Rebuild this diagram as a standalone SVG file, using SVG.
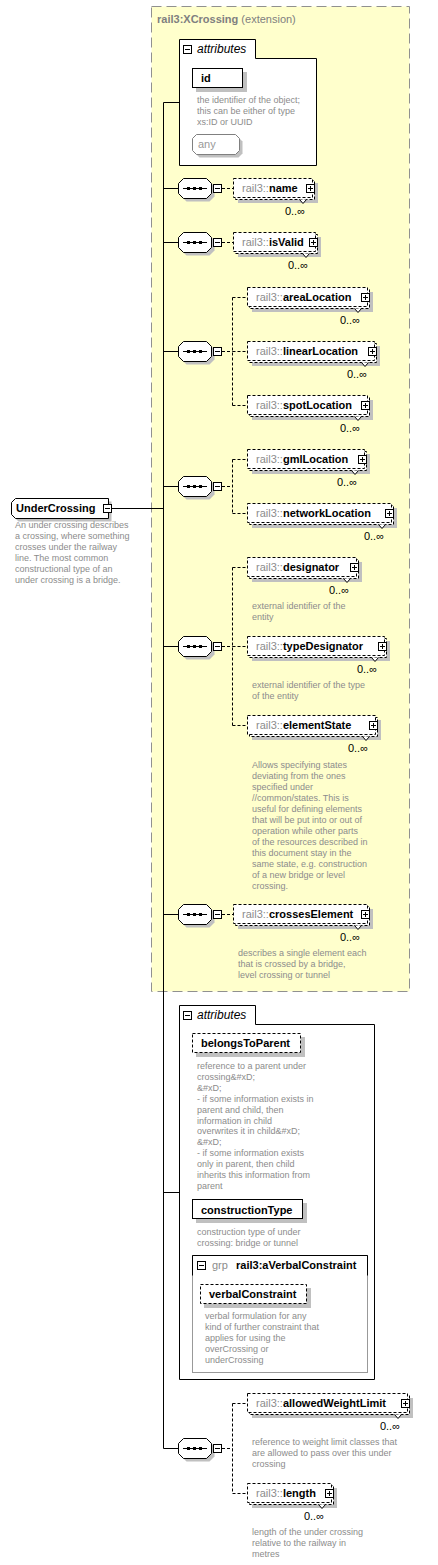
<svg xmlns="http://www.w3.org/2000/svg" xmlns:xlink="http://www.w3.org/1999/xlink" width="438" height="1565" viewBox="0 0 438 1565">
<style>
text{font-family:"Liberation Sans",Arial,sans-serif}
.desc{font-size:9px;fill:#8c8c8c}
.nm{font-size:11px;font-weight:bold;fill:#000}
.pf{font-weight:normal;fill:#8c8c8c}
.card{font-size:11px;fill:#000}
.ttl{font-size:11px;font-weight:bold;fill:#808080}
.att{font-size:12px;font-style:italic;fill:#000}
.sh{fill:#c0c0c0;stroke:none}
.box{fill:#fff;stroke:#000;stroke-width:1}
.dbox{fill:#fff;stroke:#000;stroke-width:1;stroke-dasharray:3 2}
.vn{fill:#fff;stroke:#000;stroke-width:1}
.ln{stroke:#000;stroke-width:1;fill:none}
.dl{stroke:#000;stroke-width:1;fill:none;stroke-dasharray:3 2}
</style>
<defs>
<g id="minus"><rect x=".5" y=".5" width="8" height="8" fill="#fff" stroke="#000"/><path d="M2 4.5H7" stroke="#000"/></g>
<g id="plus"><rect x=".5" y=".5" width="8" height="8" fill="#fff" stroke="#000"/><path d="M2 4.5H7M4.5 2V7" stroke="#000"/></g>
<g id="seq">
<polygon class="sh" points="3.5,-1.5 8.5,-6.5 31.5,-6.5 36.5,-1.5 36.5,8.5 31.5,13.5 8.5,13.5 3.5,8.5"/>
<polygon class="box" points="0.5,-4.5 5.5,-9.5 28.5,-9.5 33.5,-4.5 33.5,5.5 28.5,10.5 5.5,10.5 0.5,5.5"/>
<path d="M5 0.5H29" stroke="#000"/>
<rect x="9" y="-1" width="3" height="3" fill="#000"/>
<rect x="15" y="-1" width="3" height="3" fill="#000"/>
<rect x="21" y="-1" width="3" height="3" fill="#000"/>
<use xlink:href="#minus" x="35" y="-4"/>
</g>
</defs>

<g id="xcrossing">
<rect x="151.5" y="6.5" width="258" height="985" fill="#ffffcc" stroke="#909090" stroke-dasharray="10 5"/>
<text x="157" y="23" class="ttl">rail3:XCrossing<tspan font-weight="normal"> (extension)</tspan></text>
</g>

<g id="connectors">
<path class="ln" d="M163.5 102.5V1448.5M163.5 102.5H179M112 508.5H163.5M163.5 188.5H178M163.5 242.5H178M163.5 351.5H178M163.5 486.5H178M163.5 646.5H178M163.5 914.5H178M163.5 1192.5H179M163.5 1448.5H178"/>
<path class="dl" d="M222 188.5H233M222 242.5H233M222 914.5H233M222 351.5H232.5M232.5 297.5V405.5M232.5 297.5H247M232.5 351.5H247M232.5 405.5H247M222 486.5H232.5M232.5 459.5V513.5M232.5 459.5H247M232.5 513.5H247M222 646.5H232.5M232.5 567.5V725.5M232.5 567.5H247M232.5 646.5H247M232.5 725.5H247M222 1448.5H232.5M232.5 1403.5V1493.5M232.5 1403.5H247M232.5 1493.5H247"/>
</g>

<g id="undercrossing">
<polygon class="sh" points="14.5,505.5 18.5,501.5 111.5,501.5 111.5,521.5 18.5,521.5 14.5,517.5"/>
<polygon class="box" points="11.5,502.5 15.5,498.5 108.5,498.5 108.5,518.5 15.5,518.5 11.5,514.5"/>
<use xlink:href="#minus" x="103" y="504"/>
<text x="16" y="512" class="nm">UnderCrossing</text>
<text class="desc" x="15" y="528">An under crossing describes<tspan x="15" dy="11">a crossing, where something</tspan><tspan x="15" dy="11">crosses under the railway</tspan><tspan x="15" dy="11">line. The most common</tspan><tspan x="15" dy="11">constructional type of an</tspan><tspan x="15" dy="11">under crossing is a bridge.</tspan></text>
</g>

<g id="attributes1">
<path class="box" d="M179.5 165.5V39.5H255.5V58.5H316.5V165.5Z"/>
<use xlink:href="#minus" x="183" y="45"/>
<text x="197" y="53" class="att">attributes</text>
<rect class="sh" x="196" y="72" width="51" height="20"/>
<rect class="box" x="192.5" y="68.5" width="50" height="19"/>
<text x="201" y="82" class="nm">id</text>
<text class="desc" x="197" y="103">the identifier of the object;<tspan x="197" dy="11">this can be either of type</tspan><tspan x="197" dy="11">xs:ID or UUID</tspan></text>
<polygon class="sh" points="199.5,137.5 238.5,137.5 242.5,141.5 242.5,153.5 238.5,157.5 199.5,157.5 195.5,153.5 195.5,141.5"/>
<polygon points="196.5,134.5 235.5,134.5 239.5,138.5 239.5,150.5 235.5,154.5 196.5,154.5 192.5,150.5 192.5,138.5" fill="#fff" stroke="#808080"/>
<text x="198" y="148" font-size="11" fill="#999">any</text>
</g>

<g id="seq1"><use xlink:href="#seq" x="178" y="188"/></g>
<g id="seq2"><use xlink:href="#seq" x="178" y="242"/></g>
<g id="seq3"><use xlink:href="#seq" x="178" y="351"/></g>
<g id="seq4"><use xlink:href="#seq" x="178" y="486"/></g>
<g id="seq5"><use xlink:href="#seq" x="178" y="646"/></g>
<g id="seq6"><use xlink:href="#seq" x="178" y="914"/></g>
<g id="seq7"><use xlink:href="#seq" x="178" y="1448"/></g>

<g id="el-name">
<rect class="sh" x="238" y="183" width="80" height="20"/>
<rect class="dbox" x="235.5" y="180.5" width="79" height="19"/>
<rect class="dbox" x="233.5" y="178.5" width="79" height="19"/>
<path class="vn" d="M299.5 199.5L303 203.5L306.5 199.5"/>
<use xlink:href="#plus" x="306" y="184"/>
<text x="242" y="192" class="nm"><tspan class="pf">rail3::</tspan>name</text>
<text x="305" y="215" class="card" text-anchor="end">0..∞</text>
</g>

<g id="el-isValid">
<rect class="sh" x="238" y="237" width="83" height="20"/>
<rect class="dbox" x="235.5" y="234.5" width="82" height="19"/>
<rect class="dbox" x="233.5" y="232.5" width="82" height="19"/>
<path class="vn" d="M302.5 253.5L306 257.5L309.5 253.5"/>
<use xlink:href="#plus" x="309" y="238"/>
<text x="242" y="246" class="nm"><tspan class="pf">rail3::</tspan>isValid</text>
<text x="308" y="269" class="card" text-anchor="end">0..∞</text>
</g>

<g id="el-areaLocation">
<rect class="sh" x="252" y="292" width="121" height="20"/>
<rect class="dbox" x="249.5" y="289.5" width="120" height="19"/>
<rect class="dbox" x="247.5" y="287.5" width="120" height="19"/>
<path class="vn" d="M354.5 308.5L358 312.5L361.5 308.5"/>
<use xlink:href="#plus" x="361" y="293"/>
<text x="256" y="301" class="nm"><tspan class="pf">rail3::</tspan>areaLocation</text>
<text x="360" y="324" class="card" text-anchor="end">0..∞</text>
</g>

<g id="el-linearLocation">
<rect class="sh" x="252" y="346" width="128" height="20"/>
<rect class="dbox" x="249.5" y="343.5" width="127" height="19"/>
<rect class="dbox" x="247.5" y="341.5" width="127" height="19"/>
<path class="vn" d="M361.5 362.5L365 366.5L368.5 362.5"/>
<use xlink:href="#plus" x="368" y="347"/>
<text x="256" y="355" class="nm"><tspan class="pf">rail3::</tspan>linearLocation</text>
<text x="367" y="378" class="card" text-anchor="end">0..∞</text>
</g>

<g id="el-spotLocation">
<rect class="sh" x="252" y="400" width="121" height="20"/>
<rect class="dbox" x="249.5" y="397.5" width="120" height="19"/>
<rect class="dbox" x="247.5" y="395.5" width="120" height="19"/>
<path class="vn" d="M354.5 416.5L358 420.5L361.5 416.5"/>
<use xlink:href="#plus" x="361" y="401"/>
<text x="256" y="409" class="nm"><tspan class="pf">rail3::</tspan>spotLocation</text>
<text x="360" y="432" class="card" text-anchor="end">0..∞</text>
</g>

<g id="el-gmlLocation">
<rect class="sh" x="252" y="454" width="118" height="20"/>
<rect class="dbox" x="249.5" y="451.5" width="117" height="19"/>
<rect class="dbox" x="247.5" y="449.5" width="117" height="19"/>
<path class="vn" d="M351.5 470.5L355 474.5L358.5 470.5"/>
<use xlink:href="#plus" x="358" y="455"/>
<text x="256" y="463" class="nm"><tspan class="pf">rail3::</tspan>gmlLocation</text>
<text x="357" y="486" class="card" text-anchor="end">0..∞</text>
</g>

<g id="el-networkLocation">
<rect class="sh" x="252" y="508" width="145" height="20"/>
<rect class="dbox" x="249.5" y="505.5" width="144" height="19"/>
<rect class="dbox" x="247.5" y="503.5" width="144" height="19"/>
<path class="vn" d="M378.5 524.5L382 528.5L385.5 524.5"/>
<use xlink:href="#plus" x="385" y="509"/>
<text x="256" y="517" class="nm"><tspan class="pf">rail3::</tspan>networkLocation</text>
<text x="384" y="540" class="card" text-anchor="end">0..∞</text>
</g>

<g id="el-designator">
<rect class="sh" x="252" y="562" width="110" height="20"/>
<rect class="dbox" x="249.5" y="559.5" width="109" height="19"/>
<rect class="dbox" x="247.5" y="557.5" width="109" height="19"/>
<path class="vn" d="M343.5 578.5L347 582.5L350.5 578.5"/>
<use xlink:href="#plus" x="350" y="563"/>
<text x="256" y="571" class="nm"><tspan class="pf">rail3::</tspan>designator</text>
<text x="349" y="594" class="card" text-anchor="end">0..∞</text>
<text class="desc" x="252" y="609">external identifier of the<tspan x="252" dy="11">entity</tspan></text>
</g>

<g id="el-typeDesignator">
<rect class="sh" x="252" y="641" width="138" height="20"/>
<rect class="dbox" x="249.5" y="638.5" width="137" height="19"/>
<rect class="dbox" x="247.5" y="636.5" width="137" height="19"/>
<path class="vn" d="M371.5 657.5L375 661.5L378.5 657.5"/>
<use xlink:href="#plus" x="378" y="642"/>
<text x="256" y="650" class="nm"><tspan class="pf">rail3::</tspan>typeDesignator</text>
<text x="377" y="673" class="card" text-anchor="end">0..∞</text>
<text class="desc" x="252" y="688">external identifier of the type<tspan x="252" dy="11">of the entity</tspan></text>
</g>

<g id="el-elementState">
<rect class="sh" x="252" y="720" width="129" height="20"/>
<rect class="dbox" x="249.5" y="717.5" width="128" height="19"/>
<rect class="dbox" x="247.5" y="715.5" width="128" height="19"/>
<path class="vn" d="M362.5 736.5L366 740.5L369.5 736.5"/>
<use xlink:href="#plus" x="369" y="721"/>
<text x="256" y="729" class="nm"><tspan class="pf">rail3::</tspan>elementState</text>
<text x="368" y="752" class="card" text-anchor="end">0..∞</text>
<text class="desc" x="252" y="768">Allows specifying states<tspan x="252" dy="11">deviating from the ones</tspan><tspan x="252" dy="11">specified under</tspan><tspan x="252" dy="11">//common/states. This is</tspan><tspan x="252" dy="11">useful for defining elements</tspan><tspan x="252" dy="11">that will be put into or out of</tspan><tspan x="252" dy="11">operation while other parts</tspan><tspan x="252" dy="11">of the resources described in</tspan><tspan x="252" dy="11">this document stay in the</tspan><tspan x="252" dy="11">same state, e.g. construction</tspan><tspan x="252" dy="11">of a new bridge or level</tspan><tspan x="252" dy="11">crossing.</tspan></text>
</g>

<g id="el-crossesElement">
<rect class="sh" x="238" y="909" width="135" height="20"/>
<rect class="dbox" x="235.5" y="906.5" width="134" height="19"/>
<rect class="dbox" x="233.5" y="904.5" width="134" height="19"/>
<path class="vn" d="M354.5 925.5L358 929.5L361.5 925.5"/>
<use xlink:href="#plus" x="361" y="910"/>
<text x="242" y="918" class="nm"><tspan class="pf">rail3::</tspan>crossesElement</text>
<text x="360" y="941" class="card" text-anchor="end">0..∞</text>
<text class="desc" x="238" y="956">describes a single element each<tspan x="238" dy="11">that is crossed by a bridge,</tspan><tspan x="238" dy="11">level crossing or tunnel</tspan></text>
</g>

<g id="attributes2">
<path class="box" d="M179.5 1379.5V1005.5H255.5V1024.5H374.5V1379.5Z"/>
<use xlink:href="#minus" x="183" y="1011"/>
<text x="197" y="1019" class="att">attributes</text>
</g>

<g id="att-belongsToParent">
<rect class="sh" x="196" y="1037" width="109" height="20"/>
<rect class="dbox" x="192.5" y="1033.5" width="108" height="19"/>
<text x="201" y="1047" class="nm">belongsToParent</text>
<text class="desc" x="197" y="1069">reference to a parent under<tspan x="197" dy="10.9">crossing&amp;#xD;</tspan><tspan x="197" dy="10.9">&amp;#xD;</tspan><tspan x="197" dy="10.9">- if some information exists in</tspan><tspan x="197" dy="10.9">parent and child, then</tspan><tspan x="197" dy="10.9">information in child</tspan><tspan x="197" dy="10.9">overwrites it in child&amp;#xD;</tspan><tspan x="197" dy="10.9">&amp;#xD;</tspan><tspan x="197" dy="10.9">- if some information exists</tspan><tspan x="197" dy="10.9">only in parent, then child</tspan><tspan x="197" dy="10.9">inherits this information from</tspan><tspan x="197" dy="10.9">parent</tspan></text>
</g>

<g id="att-constructionType">
<rect class="sh" x="196" y="1203" width="111" height="20"/>
<rect class="box" x="192.5" y="1199.5" width="110" height="19"/>
<text x="201" y="1214" class="nm">constructionType</text>
<text class="desc" x="197" y="1235">construction type of under<tspan x="197" dy="11">crossing: bridge or tunnel</tspan></text>
</g>

<g id="grp-aVerbalConstraint">
<rect x="192.5" y="1255.5" width="175" height="117" fill="#fff" stroke="#999"/>
<path class="ln" d="M192.5 1275.5V1255.5H367.5V1275.5"/>
<use xlink:href="#minus" x="197" y="1261"/>
<text x="212" y="1269" font-size="11" fill="#8c8c8c">grp</text>
<text x="236" y="1269" class="nm">rail3:aVerbalConstraint</text>
</g>

<g id="att-verbalConstraint">
<rect class="sh" x="204" y="1288" width="107" height="20"/>
<rect class="dbox" x="200.5" y="1284.5" width="106" height="19"/>
<text x="209" y="1298" class="nm">verbalConstraint</text>
<text class="desc" x="205" y="1319">verbal formulation for any<tspan x="205" dy="11">kind of further constraint that</tspan><tspan x="205" dy="11">applies for using the</tspan><tspan x="205" dy="11">overCrossing or</tspan><tspan x="205" dy="11">underCrossing</tspan></text>
</g>

<g id="el-allowedWeightLimit">
<rect class="sh" x="252" y="1398" width="161" height="20"/>
<rect class="dbox" x="249.5" y="1395.5" width="160" height="19"/>
<rect class="dbox" x="247.5" y="1393.5" width="160" height="19"/>
<path class="vn" d="M394.5 1414.5L398 1418.5L401.5 1414.5"/>
<use xlink:href="#plus" x="401" y="1399"/>
<text x="256" y="1407" class="nm"><tspan class="pf">rail3::</tspan>allowedWeightLimit</text>
<text x="400" y="1430" class="card" text-anchor="end">0..∞</text>
<text class="desc" x="252" y="1445">reference to weight limit classes that<tspan x="252" dy="11">are allowed to pass over this under</tspan><tspan x="252" dy="11">crossing</tspan></text>
</g>

<g id="el-length">
<rect class="sh" x="252" y="1488" width="85" height="20"/>
<rect class="dbox" x="249.5" y="1485.5" width="84" height="19"/>
<rect class="dbox" x="247.5" y="1483.5" width="84" height="19"/>
<path class="vn" d="M318.5 1504.5L322 1508.5L325.5 1504.5"/>
<use xlink:href="#plus" x="325" y="1489"/>
<text x="256" y="1497" class="nm"><tspan class="pf">rail3::</tspan>length</text>
<text x="324" y="1520" class="card" text-anchor="end">0..∞</text>
<text class="desc" x="252" y="1535">length of the under crossing<tspan x="252" dy="11">relative to the railway in</tspan><tspan x="252" dy="11">metres</tspan></text>
</g>
</svg>
